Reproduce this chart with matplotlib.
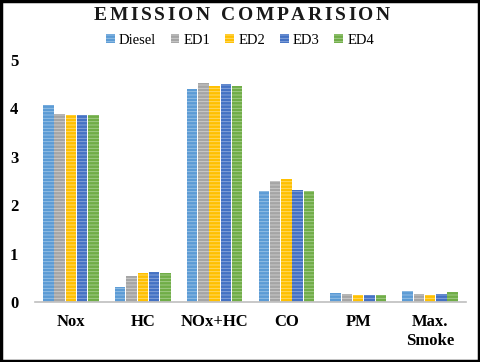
import matplotlib
matplotlib.use("Agg")
import matplotlib.pyplot as plt
import numpy as np
from matplotlib.patches import Rectangle

categories = ["Nox", "HC", "NOx+HC", "CO", "PM", "Max.\nSmoke"]
series = ["Diesel", "ED1", "ED2", "ED3", "ED4"]
diesel = [4.08, 0.31, 4.40, 2.29, 0.19, 0.23]
ed1 = [3.88, 0.54, 4.52, 2.49, 0.17, 0.17]
ed2 = [3.86, 0.60, 4.46, 2.54, 0.15, 0.15]
ed3 = [3.86, 0.62, 4.50, 2.32, 0.15, 0.17]
ed4 = [3.86, 0.60, 4.46, 2.29, 0.15, 0.21]
values = [diesel, ed1, ed2, ed3, ed4]
colors = ["#5B9BD5", "#A5A5A5", "#FFC000", "#4472C4", "#70AD47"]
hatch_colors = ["#9CC3E6", "#CFCFCF", "#FFDD73", "#8FA9DC", "#A9CF8F"]
title = "EMISSION COMPARISION"

plt.rcParams['font.family'] = ['Liberation Serif', 'DejaVu Serif']
plt.rcParams['hatch.linewidth'] = 0.6

fig = plt.figure(figsize=(4.8, 3.62), dpi=100)
ax = fig.add_axes([35/480, 1-302/362, (466-35)/480, (302-60)/362])

x = np.arange(len(categories))
bw = 0.145
gap = 0.012
for i, (s, v) in enumerate(zip(series, values)):
    off = (i - 2) * (bw + gap)
    ax.bar(x + off, v, width=bw, color=colors[i], edgecolor=hatch_colors[i],
           linewidth=0, hatch='-----', label=s)

ax.set_xlim(-0.5, len(categories) - 0.5)
ax.set_ylim(0, 5)
ax.set_yticks([0, 1, 2, 3, 4, 5])
ax.set_xticks(x)
ax.set_xticklabels(categories, fontsize=12, fontweight='bold')
ax.tick_params(axis='y', labelsize=12, length=0, pad=12)
for t in ax.get_yticklabels():
    t.set_fontweight('bold')
ax.tick_params(axis='x', length=0, pad=9)
for sp in ['top', 'right', 'left']:
    ax.spines[sp].set_visible(False)
ax.spines['bottom'].set_color('#BFBFBF')
ax.spines['bottom'].set_linewidth(1.2)

# letter-spaced title
renderer = fig.canvas.get_renderer()
tsize = 14
spacing = 2.6  # px between letters
widths = []
for ch in title:
    if ch == ' ':
        widths.append(6.0)
        continue
    t = fig.text(0, 0, ch, fontsize=tsize, fontweight='bold')
    widths.append(t.get_window_extent(renderer).width)
    t.remove()
total = sum(widths) + spacing * (len(title) - 1)
xpos = 242 - total / 2
for ch, w in zip(title, widths):
    if ch != ' ':
        fig.text(xpos / 480, 1 - 16 / 362, ch, fontsize=tsize, fontweight='bold',
                 color='#1a1a1a', ha='left', va='center')
    xpos += w + spacing

ax.legend(loc='center', bbox_to_anchor=(0.5, (362-40)/362), bbox_transform=fig.transFigure,
          ncol=5, frameon=False, fontsize=10.5, handlelength=0.6, handleheight=0.6,
          handletextpad=0.3, columnspacing=1.0)

fig.patches.append(Rectangle((0.002, 0.003), 0.995, 0.993, transform=fig.transFigure,
                             fill=False, edgecolor='black', linewidth=2.5))
fig.savefig("out.png", dpi=100)
